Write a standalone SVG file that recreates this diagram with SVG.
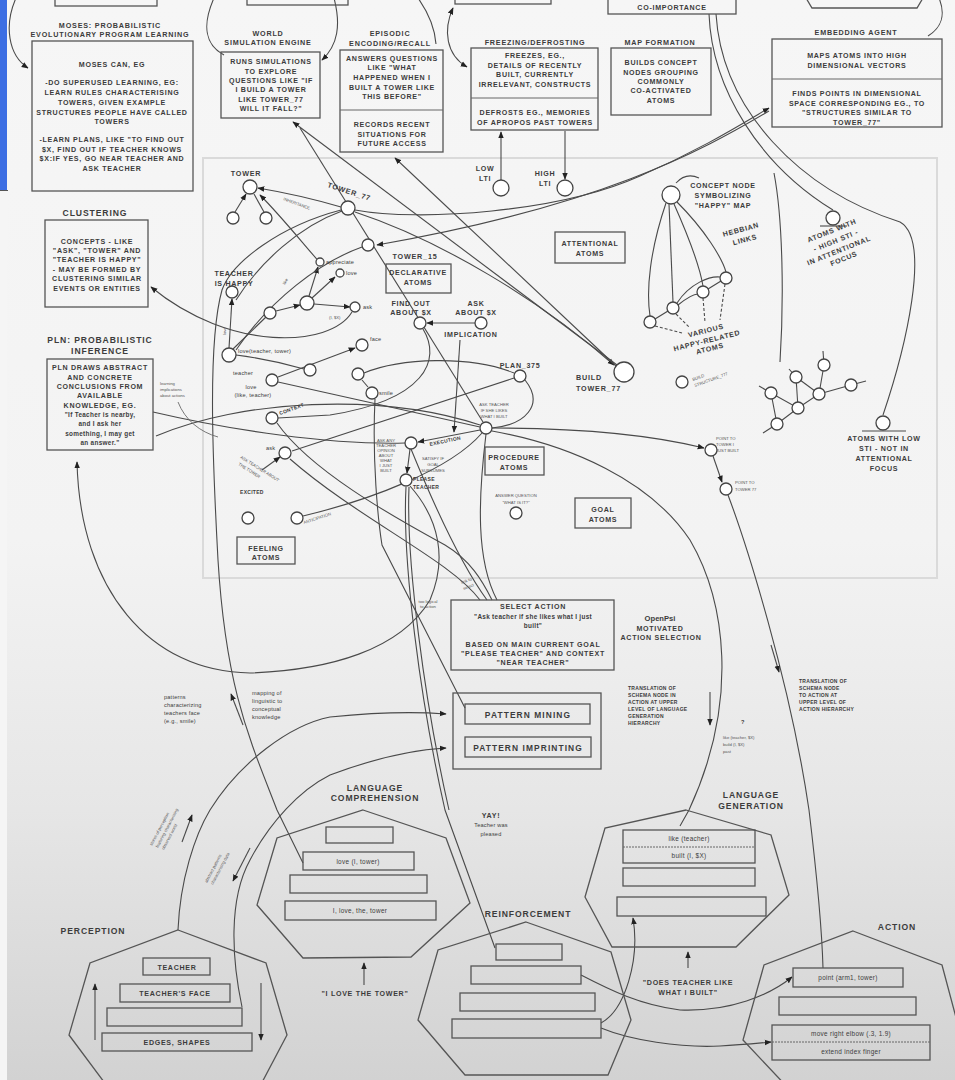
<svg xmlns="http://www.w3.org/2000/svg" width="955" height="1080" viewBox="0 0 955 1080">
<defs>
<linearGradient id="bg" x1="0" y1="0" x2="0" y2="1">
<stop offset="0" stop-color="#f6f6f6"/>
<stop offset="0.5" stop-color="#f3f3f3"/>
<stop offset="0.75" stop-color="#e6e6e6"/>
<stop offset="1" stop-color="#d2d2d2"/>
</linearGradient>
<marker id="ah" viewBox="0 0 10 10" refX="9" refY="5" markerWidth="7" markerHeight="7" markerUnits="userSpaceOnUse" orient="auto-start-reverse"><path d="M0,1 L10,5 L0,9 Z" fill="#222"/></marker>
<style>
text { font-family: 'Liberation Sans', Arial, sans-serif; fill: #3c3c3c; }
.t { font-size: 7.1px; font-weight: bold; letter-spacing: 0.7px; text-anchor: middle; }
.h { font-size: 7.2px; font-weight: bold; letter-spacing: 0.8px; text-anchor: middle; }
.hb { font-size: 8.6px; font-weight: bold; letter-spacing: 0.9px; text-anchor: middle; }
.pm { font-size: 8.4px; font-weight: bold; letter-spacing: 1.1px; text-anchor: middle; }
.m { font-size: 6.4px; font-weight: bold; letter-spacing: 0.3px; text-anchor: middle; }
.s { font-size: 5.6px; letter-spacing: 0.2px; }
.sm { font-size: 5.6px; letter-spacing: 0.2px; text-anchor: middle; }
.sb { font-size: 5px; font-weight: bold; letter-spacing: 0.3px; }
.xs { font-size: 4.2px; fill: #555; }
.xsm { font-size: 4.2px; fill: #555; text-anchor: middle; }
.box { fill: none; stroke: #555; stroke-width: 1.3; }
.div { fill: none; stroke: #666; stroke-width: 1; }
.ln { fill: none; stroke: #4a4a4a; stroke-width: 1.1; }
.lt { fill: none; stroke: #6a6a6a; stroke-width: 0.9; }
.dash { fill: none; stroke: #4a4a4a; stroke-width: 1.1; stroke-dasharray: 3 2; }
.nd { fill: #fff; stroke: #444; stroke-width: 1.3; }
.hex { fill: none; stroke: #555; stroke-width: 1.3; }
</style>
</defs>

<!-- page -->
<rect x="0" y="0" width="955" height="1080" fill="url(#bg)"/>
<rect x="0" y="190" width="7" height="890" fill="#f5f5f5"/>
<rect x="0" y="0" width="7" height="190" fill="#3c6ee3"/>
<line x1="0" y1="190.5" x2="8" y2="190.5" stroke="#555" stroke-width="1"/>

<!-- atomspace region -->
<rect id="atomspace" x="203" y="158" width="734" height="420" fill="none" stroke="#dadada" stroke-width="2"/>

<!-- connectors -->
<g id="connectors">
  <!-- top loops -->
  <path class="ln" d="M16 -2 C4 25, 8 55, 28 68" marker-end="url(#ah)"/>
  <path class="ln" d="M214 -2 C202 25, 205 45, 224 55"/>
  <path class="ln" d="M334 -2 C341 25, 338 45, 322 60" marker-end="url(#ah)"/>
  <path class="ln" d="M418 -2 C430 15, 435 30, 436 44"/>
  <path class="ln" d="M453 8 C443 30, 446 55, 467 67" marker-start="url(#ah)" marker-end="url(#ah)"/>
  <path class="ln" d="M939 -2 C946 15, 941 28, 928 36"/>
  <!-- co-importance to STI nodes -->
  <path class="ln" d="M709 14 C712 90, 760 165, 833 210"/>
  <path class="ln" d="M716 14 C722 110, 800 190, 900 222 C932 240, 905 350, 883 415"/>
  <!-- LTI -->
  <path class="ln" d="M501 180 L501 132" marker-end="url(#ah)"/>
  <path class="ln" d="M565 131 L565 179" marker-end="url(#ah)"/>
  <!-- tower cluster -->
  <path class="ln" d="M235 212 L246 194" marker-end="url(#ah)"/>
  <path class="ln" d="M264 212 L254 194"/>
  <path class="ln" d="M341 207 Q300 195 258 188" marker-end="url(#ah)"/>
  <path class="ln" d="M321 264 C300 240, 280 215, 260 195" marker-end="url(#ah)"/>
  <path class="ln" d="M236 300 C260 262, 300 226, 342 211"/>
  <!-- language to concept mapping -->
  <path class="ln" d="M303 863 L277 810 C250 740, 226 690, 218 560 C212 450, 208 340, 222 290 C232 262, 280 226, 341 210"/>
  <!-- build tower links -->
  <path class="ln" d="M355 212 C440 240, 540 300, 614 365" marker-end="url(#ah)"/>
  <path class="ln" d="M617 365 L293 122" marker-end="url(#ah)"/>
  <path class="ln" d="M616 366 L395 158" marker-end="url(#ah)"/>
  <path class="ln" d="M300 128 L483 422"/>
  <!-- embedding links -->
  <path class="ln" d="M355 210 C420 222, 560 212, 640 176 C700 150, 740 125, 769 108" marker-end="url(#ah)"/>
  <path class="ln" d="M769 111 C700 152, 600 206, 377 245" marker-end="url(#ah)"/>
  <!-- clustering -->
  <path class="ln" d="M352 312 C330 348, 230 352, 151 287" marker-end="url(#ah)"/>
  <!-- declarative cluster -->
  <path class="ln" d="M229 348 L232 299" marker-end="url(#ah)"/>
  <path class="ln" d="M233 349 L266 317"/>
  <path class="ln" d="M276 311 L300 305" marker-end="url(#ah)"/>
  <path class="ln" d="M309 296 L318 267" marker-end="url(#ah)"/>
  <path class="ln" d="M312 298 L335 277" marker-end="url(#ah)"/>
  <path class="ln" d="M314 304 L350 307" marker-end="url(#ah)"/>
  <path class="ln" d="M236 350 C270 300, 320 262, 362 247"/>
  <path class="ln" d="M236 355 C260 358, 290 365, 304 369"/>
  <path class="ln" d="M278 377 L355 348" marker-end="url(#ah)"/>
  <path class="ln" d="M364 373 C400 358, 470 355, 514 373"/>
  <path class="ln" d="M362 380 L368 387"/>
  <path class="ln" d="M525 380 C545 405, 525 425, 492 428"/>
  <path class="ln" d="M514 378 L292 451"/>
  <path class="ln" d="M460 340 L454 432" marker-end="url(#ah)"/>
  <path class="ln" d="M475 323 L427 323" marker-end="url(#ah)"/>
  <path class="ln" d="M423 329 C442 360, 425 400, 330 415 L278 418"/>
  <path class="ln" d="M480 430 L418 442" marker-end="url(#ah)"/>
  <path class="ln" d="M410 449 L407 473" marker-end="url(#ah)"/>
  <path class="ln" d="M278 382 L480 427"/>
  <path class="ln" d="M277 423 C310 470, 390 515, 445 545 C470 560, 482 580, 492 600"/>
  <path class="ln" d="M303 516 C370 500, 450 470, 482 433"/>
  <path class="ln" d="M262 470 L280 457" marker-end="url(#ah)"/>
  <path class="ln" d="M153 412 C230 430, 330 445, 405 443"/>
  <path class="ln" d="M156 436 C240 400, 380 392, 480 425"/>
  <path class="lt" d="M178 402 C185 420, 200 432, 218 437"/>
  <!-- towards action / generation -->
  <path class="ln" d="M492 428 C560 428, 640 432, 704 448" marker-end="url(#ah)"/>
  <path class="ln" d="M713 456 L722 482" marker-end="url(#ah)"/>
  <path class="ln" d="M728 495 C745 540, 790 680, 809 810 C815 860, 822 930, 823 968"/>
  <path class="ln" d="M492 431 C570 445, 650 480, 690 540 C725 600, 740 700, 689 810 L680 826"/>
  <path class="ln" d="M771 645 L779 672" marker-end="url(#ah)"/>
  <path class="ln" d="M710 692 L710 725" marker-end="url(#ah)"/>
  <!-- selection and learning feeds -->
  <path class="ln" d="M406 487 C402 560, 420 700, 445 810 L495 948"/>
  <path class="ln" d="M409 487 C406 560, 424 700, 449 810"/>
  <path class="ln" d="M375 399 C372 460, 378 520, 382 545 L465 708"/>
  <path class="ln" d="M486 434 C478 500, 476 560, 497 600"/>
  <path class="ln" d="M411 449 C440 520, 465 570, 487 600"/>
  <path class="ln" d="M290 459 C360 520, 450 560, 480 600"/>
  <path class="ln" d="M410 486 C440 520, 447 560, 430 600 C400 650, 330 670, 250 673 C150 672, 80 590, 77 462" marker-end="url(#ah)"/>
  <!-- happy map -->
  <path class="ln" d="M666 203 C650 250, 646 290, 650 316"/>
  <path class="ln" d="M669 204 L673 302"/>
  <path class="ln" d="M674 204 C690 240, 700 268, 703 286"/>
  <path class="ln" d="M677 202 C705 230, 722 258, 726 272"/>
  <path class="ln" d="M655 319 L668 311"/>
  <path class="ln" d="M678 305 C688 297, 694 294, 698 294"/>
  <path class="ln" d="M708 289 L721 281"/>
  <path class="ln" d="M677 303 C690 283, 710 276, 720 277"/>
  <path class="dash" d="M655 326 L682 333"/>
  <path class="dash" d="M676 314 L690 328"/>
  <path class="dash" d="M703 298 L705 322"/>
  <path class="dash" d="M725 284 L720 320"/>
  <path class="ln" d="M676 183 Q686 172 699 178"/>
  <path class="ln" d="M774 173 C783 220, 784 300, 780 362"/>
  <!-- perception / pattern links -->
  <path class="ln" d="M178 930 C180 880, 195 835, 210 810 C240 762, 290 725, 330 717 C380 712, 420 712, 446 714" marker-end="url(#ah)"/>
  <path class="ln" d="M242 1007 C232 960, 228 900, 250 860 C270 822, 300 790, 330 775 C370 760, 410 750, 446 748" marker-end="url(#ah)"/>
  <path class="ln" d="M182 842 L192 815" marker-end="url(#ah)"/>
  <path class="ln" d="M250 848 L233 881" marker-end="url(#ah)"/>
  <path class="ln" d="M243 725 L231 694" marker-end="url(#ah)"/>
  <!-- reinforcement outputs -->
  <path class="ln" d="M581 975 C610 990, 640 1005, 680 1010 C730 1012, 770 995, 792 977" marker-end="url(#ah)"/>
  <path class="ln" d="M601 1028 C630 1040, 680 1048, 720 1046 C740 1045, 760 1043, 771 1042" marker-end="url(#ah)"/>
  <path class="ln" d="M601 1023 C625 1010, 640 960, 633 918" marker-end="url(#ah)"/>
  <!-- input / output arrows -->
  <path class="ln" d="M364 985 L364 963" marker-end="url(#ah)"/>
  <path class="ln" d="M688 968 L688 952" marker-end="url(#ah)"/>
  <path class="ln" d="M95 1040 L95 984" marker-end="url(#ah)"/>
  <path class="ln" d="M261 983 L261 1040" marker-end="url(#ah)"/>
</g>

<!-- boxes cut by the top edge -->
<g id="top-boxes">
  <rect class="box" x="55" y="-10" width="102" height="16"/>
  <rect class="box" x="247" y="-10" width="101" height="15"/>
  <rect class="box" x="455" y="-10" width="96" height="14"/>
  <rect class="box" x="608" y="-10" width="128" height="24"/>
  <text class="t" x="672" y="9.5">CO-IMPORTANCE</text>
  <path class="box" d="M806 -2 L812 8 L917 8 L923 -2"/>
</g>

<g id="moses">
  <text class="h" x="110" y="28">MOSES: PROBABILISTIC</text>
  <text class="h" x="110" y="37">EVOLUTIONARY PROGRAM LEARNING</text>
  <rect class="box" x="32" y="41" width="161" height="150"/>
  <text class="t" x="112" y="66.5">MOSES CAN, EG</text>
  <text class="t" x="112" y="84.5">-DO SUPERUSED LEARNING, EG:</text>
  <text class="t" x="112" y="94.5">LEARN RULES CHARACTERISING</text>
  <text class="t" x="112" y="104.5">TOWERS, GIVEN EXAMPLE</text>
  <text class="t" x="112" y="114.5">STRUCTURES PEOPLE HAVE CALLED</text>
  <text class="t" x="112" y="123.5">TOWERS</text>
  <text class="t" x="112" y="141.5">-LEARN PLANS, LIKE "TO FIND OUT</text>
  <text class="t" x="112" y="151.5">$X, FIND OUT IF TEACHER KNOWS</text>
  <text class="t" x="112" y="160.5">$X:IF YES, GO NEAR TEACHER AND</text>
  <text class="t" x="112" y="170.5">ASK TEACHER</text>
</g>

<g id="world-simulation">
  <text class="h" x="268" y="35.5">WORLD</text>
  <text class="h" x="268" y="44.5">SIMULATION ENGINE</text>
  <rect class="box" x="221" y="52" width="99" height="66"/>
  <text class="t" x="271" y="63.5">RUNS SIMULATIONS</text>
  <text class="t" x="271" y="73.5">TO EXPLORE</text>
  <text class="t" x="271" y="82.5">QUESTIONS LIKE "IF</text>
  <text class="t" x="271" y="91.5">I BUILD A TOWER</text>
  <text class="t" x="271" y="101.5">LIKE TOWER_77</text>
  <text class="t" x="271" y="110.5">WILL IT FALL?"</text>
</g>

<g id="episodic">
  <text class="h" x="390" y="35.5">EPISODIC</text>
  <text class="h" x="390" y="45.5">ENCODING/RECALL</text>
  <rect class="box" x="340" y="50" width="103" height="102"/>
  <line class="div" x1="340" y1="110" x2="443" y2="110"/>
  <text class="t" x="392" y="60.5">ANSWERS QUESTIONS</text>
  <text class="t" x="392" y="69.5">LIKE "WHAT</text>
  <text class="t" x="392" y="79.5">HAPPENED WHEN I</text>
  <text class="t" x="392" y="89.5">BUILT A TOWER LIKE</text>
  <text class="t" x="392" y="98.5">THIS BEFORE"</text>
  <text class="t" x="392" y="126.5">RECORDS RECENT</text>
  <text class="t" x="392" y="136.5">SITUATIONS FOR</text>
  <text class="t" x="392" y="145.5">FUTURE ACCESS</text>
</g>

<g id="freezing">
  <text class="h" x="535" y="44.5">FREEZING/DEFROSTING</text>
  <rect class="box" x="471" y="48" width="127" height="82"/>
  <line class="div" x1="471" y1="98" x2="598" y2="98"/>
  <text class="t" x="535" y="57.5">FREEZES, EG.,</text>
  <text class="t" x="535" y="67.5">DETAILS OF RECENTLY</text>
  <text class="t" x="535" y="76.5">BUILT, CURRENTLY</text>
  <text class="t" x="535" y="86.5">IRRELEVANT, CONSTRUCTS</text>
  <text class="t" x="535" y="114.5">DEFROSTS EG., MEMORIES</text>
  <text class="t" x="535" y="124.5">OF APROPOS PAST TOWERS</text>
</g>

<g id="map-formation">
  <text class="h" x="660" y="44.5">MAP FORMATION</text>
  <rect class="box" x="611" y="48" width="100" height="67"/>
  <text class="t" x="661" y="64.5">BUILDS CONCEPT</text>
  <text class="t" x="661" y="74.5">NODES GROUPING</text>
  <text class="t" x="661" y="83.5">COMMONLY</text>
  <text class="t" x="661" y="92.5">CO-ACTIVATED</text>
  <text class="t" x="661" y="102.5">ATOMS</text>
</g>

<g id="embedding-agent">
  <text class="h" x="856" y="34.5">EMBEDDING AGENT</text>
  <rect class="box" x="772" y="39" width="170" height="88"/>
  <line class="div" x1="772" y1="79" x2="942" y2="79"/>
  <text class="t" x="857" y="57.5">MAPS ATOMS INTO HIGH</text>
  <text class="t" x="857" y="67.5">DIMENSIONAL VECTORS</text>
  <text class="t" x="857" y="95.5">FINDS POINTS IN DIMENSIONAL</text>
  <text class="t" x="857" y="105.5">SPACE CORRESPONDING EG., TO</text>
  <text class="t" x="857" y="114.5">"STRUCTURES SIMILAR TO</text>
  <text class="t" x="857" y="124.5">TOWER_77"</text>
</g>

<g id="lti-nodes">
  <circle class="nd" cx="501" cy="188" r="8"/>
  <circle class="nd" cx="565" cy="188" r="8"/>
  <text class="t" x="485" y="170.5">LOW</text>
  <text class="t" x="485" y="180.5">LTI</text>
  <text class="t" x="545" y="175.5">HIGH</text>
  <text class="t" x="545" y="185.5">LTI</text>
</g>

<g id="clustering">
  <text class="hb" x="95" y="216">CLUSTERING</text>
  <rect class="box" x="45" y="220" width="103" height="87"/>
  <text class="t" x="97" y="243.5">CONCEPTS - LIKE</text>
  <text class="t" x="97" y="252.5">"ASK", "TOWER" AND</text>
  <text class="t" x="97" y="261.5">"TEACHER IS HAPPY"</text>
  <text class="t" x="97" y="271.5">- MAY BE FORMED BY</text>
  <text class="t" x="97" y="280.5">CLUSTERING SIMILAR</text>
  <text class="t" x="97" y="290.5">EVENTS OR ENTITIES</text>
</g>

<g id="pln">
  <text class="hb" x="100" y="343">PLN: PROBABILISTIC</text>
  <text class="hb" x="100" y="354">INFERENCE</text>
  <rect class="box" x="47" y="359" width="106" height="91"/>
  <text class="t" x="100" y="369.5">PLN DRAWS ABSTRACT</text>
  <text class="t" x="100" y="379.5">AND CONCRETE</text>
  <text class="t" x="100" y="388.5">CONCLUSIONS FROM</text>
  <text class="t" x="100" y="397.5">AVAILABLE</text>
  <text class="t" x="100" y="407.5">KNOWLEDGE, EG.</text>
  <text class="m" x="100" y="416.5">"If Teacher is nearby,</text>
  <text class="m" x="100" y="425.5">and I ask her</text>
  <text class="m" x="100" y="435.5">something, I may get</text>
  <text class="m" x="100" y="444.5">an answer."</text>
  <text class="xs" x="160" y="385">learning</text>
  <text class="xs" x="160" y="391">implications</text>
  <text class="xs" x="160" y="397">about actions</text>
</g>

<!-- declarative atoms -->
<g id="tower-nodes">
  <text class="h" x="246" y="176">TOWER</text>
  <circle class="nd" cx="250" cy="187" r="7"/>
  <circle class="nd" cx="233" cy="218" r="6"/>
  <circle class="nd" cx="266" cy="218" r="6"/>
  <text class="xs" x="297" y="205" text-anchor="middle" transform="rotate(20 297 203)">INHERITANCE</text>
  <text class="h" x="349" y="194" transform="rotate(18 349 192)">TOWER_77</text>
  <circle class="nd" cx="348" cy="208" r="7"/>
  <text class="h" x="415" y="259">TOWER_15</text>
  <circle class="nd" cx="368" cy="245" r="6"/>
</g>

<g id="declarative-atoms">
  <rect class="box" x="386" y="264" width="65" height="29"/>
  <text class="t" x="418" y="275">DECLARATIVE</text>
  <text class="t" x="418" y="285">ATOMS</text>
</g>

<g id="attentional-atoms">
  <rect class="box" x="555" y="232" width="70" height="31"/>
  <text class="t" x="590" y="245.5">ATTENTIONAL</text>
  <text class="t" x="590" y="255.5">ATOMS</text>
</g>

<g id="teacher-nodes">
  <text class="t" x="234" y="275.5">TEACHER</text>
  <text class="t" x="234" y="285.5">IS HAPPY</text>
  <circle class="nd" cx="232" cy="292" r="6"/>
  <circle class="nd" cx="320" cy="262" r="4"/>
  <text class="s" x="326" y="264">appreciate</text>
  <circle class="nd" cx="340" cy="273" r="4"/>
  <text class="s" x="346" y="275">love</text>
  <circle class="nd" cx="307" cy="303" r="7"/>
  <circle class="nd" cx="270" cy="313" r="6"/>
  <circle class="nd" cx="355" cy="307" r="5"/>
  <text class="s" x="363" y="309">ask</text>
  <text class="xs" x="329" y="319">(I, $X)</text>
  <text class="xs" x="285" y="285" transform="rotate(-60 285 285)">like</text>
  <text class="xs" x="226" y="335" transform="rotate(-90 226 335)">love</text>
  <circle class="nd" cx="229" cy="355" r="7"/>
  <text class="s" x="238" y="353">love(teacher, tower)</text>
  <text class="s" x="233" y="375">teacher</text>
  <circle class="nd" cx="272" cy="380" r="6"/>
  <text class="sm" x="251" y="389">love</text>
  <text class="sm" x="253" y="397">(like, teacher)</text>
  <circle class="nd" cx="310" cy="370" r="6"/>
  <circle class="nd" cx="362" cy="345" r="6"/>
  <text class="s" x="370" y="341">face</text>
  <circle class="nd" cx="358" cy="374" r="6"/>
  <circle class="nd" cx="372" cy="393" r="6"/>
  <text class="s" x="379" y="395">smile</text>
  <circle class="nd" cx="272" cy="418" r="6"/>
  <text class="sb" x="280" y="415" transform="rotate(-20 280 415)">CONTEXT</text>
  <text class="s" x="266" y="450">ask</text>
  <circle class="nd" cx="285" cy="453" r="6"/>
  <text class="xs" x="240" y="458" transform="rotate(32 240 458)">ASK TEACHER ABOUT</text>
  <text class="xs" x="238" y="465" transform="rotate(32 238 465)">THE TOWER</text>
  <text class="sb" x="240" y="494">EXCITED</text>
  <circle class="nd" cx="248" cy="518" r="6"/>
  <circle class="nd" cx="297" cy="518" r="6"/>
  <text class="xs" x="304" y="524" transform="rotate(-18 304 524)">ANTICIPATION</text>
</g>

<g id="plan-nodes">
  <text class="t" x="411" y="306">FIND OUT</text>
  <text class="t" x="411" y="315">ABOUT $X</text>
  <circle class="nd" cx="420" cy="323" r="6"/>
  <text class="t" x="476" y="306">ASK</text>
  <text class="t" x="476" y="315">ABOUT $X</text>
  <circle class="nd" cx="481" cy="323" r="6"/>
  <text class="t" x="471" y="337">IMPLICATION</text>
  <text class="t" x="520" y="368">PLAN_375</text>
  <circle class="nd" cx="520" cy="376" r="6"/>
  <text class="xsm" x="494" y="406">ASK TEACHER</text>
  <text class="xsm" x="494" y="412">IF SHE LIKES</text>
  <text class="xsm" x="494" y="418">WHAT I BUILT</text>
  <circle class="nd" cx="486" cy="428" r="6"/>
  <text class="sb" x="430" y="446" transform="rotate(-12 430 446)">EXECUTION</text>
  <circle class="nd" cx="411" cy="443" r="6"/>
  <text class="xsm" x="386" y="442">ASK ANY</text>
  <text class="xsm" x="386" y="447">TEACHER</text>
  <text class="xsm" x="386" y="452">OPINION</text>
  <text class="xsm" x="386" y="457">ABOUT</text>
  <text class="xsm" x="386" y="462">WHAT</text>
  <text class="xsm" x="386" y="467">I JUST</text>
  <text class="xsm" x="386" y="472">BUILT</text>
  <text class="xsm" x="433" y="460">SATISFY IF</text>
  <text class="xsm" x="433" y="466">GOAL</text>
  <text class="xsm" x="433" y="472">SUBSUMES</text>
  <circle class="nd" cx="406" cy="480" r="6"/>
  <text class="sb" x="413" y="481">PLEASE</text>
  <text class="sb" x="413" y="489">TEACHER</text>
</g>

<g id="procedure-atoms">
  <rect class="box" x="485" y="447" width="59" height="28"/>
  <text class="t" x="514" y="459.5">PROCEDURE</text>
  <text class="t" x="514" y="469.5">ATOMS</text>
  <text class="xsm" x="516" y="497">ANSWER QUESTION</text>
  <text class="xsm" x="516" y="504">"WHAT IS IT?"</text>
  <circle class="nd" cx="516" cy="513" r="6"/>
</g>

<g id="goal-atoms">
  <rect class="box" x="575" y="498" width="56" height="30"/>
  <text class="t" x="603" y="511.5">GOAL</text>
  <text class="t" x="603" y="521.5">ATOMS</text>
</g>

<g id="feeling-atoms">
  <rect class="box" x="237" y="537" width="58" height="27"/>
  <text class="t" x="266" y="550.5">FEELING</text>
  <text class="t" x="266" y="559.5">ATOMS</text>
</g>

<g id="build-tower">
  <circle class="nd" cx="624" cy="372" r="10"/>
  <text class="h" x="576" y="380" style="text-anchor:start">BUILD</text>
  <text class="h" x="576" y="391" style="text-anchor:start">TOWER_77</text>
  <circle class="nd" cx="682" cy="382" r="6"/>
  <text class="xs" x="693" y="381" transform="rotate(-20 693 381)">BUILD</text>
  <text class="xs" x="695" y="387" transform="rotate(-20 695 387)">STRUCTURE_777</text>
</g>

<g id="happy-map">
  <circle class="nd" cx="671" cy="195" r="9"/>
  <text class="t" x="723" y="187.5">CONCEPT NODE</text>
  <text class="t" x="723" y="197.5">SYMBOLIZING</text>
  <text class="t" x="723" y="207.5">"HAPPY" MAP</text>
  <text class="t" x="741" y="232" transform="rotate(-15 741 230)">HEBBIAN</text>
  <text class="t" x="745" y="242" transform="rotate(-15 745 240)">LINKS</text>
  <circle class="nd" cx="650" cy="322" r="6"/>
  <circle class="nd" cx="673" cy="308" r="6"/>
  <circle class="nd" cx="703" cy="292" r="6"/>
  <circle class="nd" cx="726" cy="278" r="6"/>
  <text class="t" x="706" y="333" transform="rotate(-14 706 331)">VARIOUS</text>
  <text class="t" x="707" y="343" transform="rotate(-14 707 341)">HAPPY-RELATED</text>
  <text class="t" x="710" y="351" transform="rotate(-14 710 349)">ATOMS</text>
</g>

<g id="high-sti">
  <circle class="nd" cx="833" cy="218" r="7"/>
  <line class="ln" x1="820" y1="226" x2="847" y2="226"/>
  <text class="t" x="832" y="233" transform="rotate(-22 832 231)">ATOMS WITH</text>
  <text class="t" x="836" y="243" transform="rotate(-22 836 241)">- HIGH STI -</text>
  <text class="t" x="839" y="253" transform="rotate(-22 839 251)">IN ATTENTIONAL</text>
  <text class="t" x="844" y="261" transform="rotate(-22 844 259)">FOCUS</text>
</g>

<g id="low-sti">
  <circle class="nd" cx="883" cy="423" r="7"/>
  <line class="ln" x1="862" y1="431" x2="906" y2="431"/>
  <text class="t" x="884" y="440.5">ATOMS WITH LOW</text>
  <text class="t" x="884" y="450.5">STI - NOT IN</text>
  <text class="t" x="884" y="460.5">ATTENTIONAL</text>
  <text class="t" x="884" y="470.5">FOCUS</text>
</g>

<g id="structure">
  <g class="ln">
    <path d="M771 393 L777 424 L798 408 L771 393"/>
    <path d="M798 408 L819 394 L824 365"/>
    <path d="M819 394 L851 385"/>
    <path d="M796 377 L798 408"/>
    <path d="M796 377 L819 394"/>
    <path d="M824 365 L823 351"/>
    <path d="M796 377 L789 369"/>
    <path d="M771 393 L759 386"/>
    <path d="M851 385 L866 381"/>
    <path d="M777 424 L763 433"/>
  </g>
  <circle class="nd" cx="771" cy="393" r="6"/>
  <circle class="nd" cx="796" cy="377" r="6"/>
  <circle class="nd" cx="824" cy="365" r="6"/>
  <circle class="nd" cx="851" cy="385" r="6"/>
  <circle class="nd" cx="819" cy="394" r="6"/>
  <circle class="nd" cx="798" cy="408" r="6"/>
  <circle class="nd" cx="777" cy="424" r="6"/>
</g>

<g id="point-nodes">
  <circle class="nd" cx="711" cy="450" r="6"/>
  <text class="xs" x="716" y="440">POINT TO</text>
  <text class="xs" x="716" y="446">TOWER I</text>
  <text class="xs" x="716" y="452">JUST BUILT</text>
  <circle class="nd" cx="726" cy="489" r="6"/>
  <text class="xs" x="735" y="484">POINT TO</text>
  <text class="xs" x="735" y="491">TOWER 77</text>
</g>

<g id="select-action">
  <text class="xsm" x="467" y="582" transform="rotate(-20 467 582)">link to</text>
  <text class="xsm" x="469" y="588" transform="rotate(-20 469 588)">select</text>
  <text class="xsm" x="428" y="603">too logical</text>
  <text class="xsm" x="428" y="608">to action</text>
  <rect class="box" x="451" y="600" width="163" height="70" fill="#f7f7f7"/>
  <text class="t" x="533" y="608.5">SELECT ACTION</text>
  <text class="m" x="533" y="618.5">"Ask teacher if she likes what I just</text>
  <text class="m" x="533" y="627.5">built"</text>
  <text class="t" x="533" y="646.5">BASED ON MAIN CURRENT GOAL</text>
  <text class="t" x="533" y="655.5">"PLEASE TEACHER" AND CONTEXT</text>
  <text class="t" x="533" y="664.5">"NEAR TEACHER"</text>
</g>

<g id="openpsi">
  <text x="660" y="621" style="font-size:7.6px;font-weight:bold;text-anchor:middle">OpenPsi</text>
  <text class="t" x="660" y="630.5">MOTIVATED</text>
  <text class="t" x="661" y="639.5">ACTION SELECTION</text>
</g>

<g id="pattern">
  <rect class="box" x="453" y="693" width="148" height="76"/>
  <rect class="box" x="465" y="704" width="125" height="20"/>
  <text class="pm" x="528" y="717.5">PATTERN MINING</text>
  <rect class="box" x="465" y="737" width="126" height="20"/>
  <text class="pm" x="528" y="750.5">PATTERN IMPRINTING</text>
</g>

<g id="notes">
  <text class="sb" x="628" y="690">TRANSLATION OF</text>
  <text class="sb" x="628" y="697">SCHEMA NODE IN</text>
  <text class="sb" x="628" y="704">ACTION AT UPPER</text>
  <text class="sb" x="628" y="711">LEVEL OF LANGUAGE</text>
  <text class="sb" x="628" y="718">GENERATION</text>
  <text class="sb" x="628" y="725">HIERARCHY</text>
  <text class="sb" x="799" y="683">TRANSLATION OF</text>
  <text class="sb" x="799" y="690">SCHEMA NODE</text>
  <text class="sb" x="799" y="697">TO ACTION AT</text>
  <text class="sb" x="799" y="704">UPPER LEVEL OF</text>
  <text class="sb" x="799" y="711">ACTION HIERARCHY</text>
  <text class="s" x="741" y="724" style="font-weight:bold">?</text>
  <text class="xs" x="723" y="739">like (teacher, $X)</text>
  <text class="xs" x="723" y="746">build (I, $X)</text>
  <text class="xs" x="723" y="753">past</text>
  <text class="s" x="164" y="699">patterns</text>
  <text class="s" x="164" y="707">characterizing</text>
  <text class="s" x="164" y="715">teachers face</text>
  <text class="s" x="164" y="723">(e.g., smile)</text>
  <text class="s" x="252" y="695">mapping of</text>
  <text class="s" x="252" y="703">linguistic to</text>
  <text class="s" x="252" y="711">conceptual</text>
  <text class="s" x="252" y="719">knowledge</text>
  <text class="xs" x="152" y="846" transform="rotate(-62 152 846)">stores of perception</text>
  <text class="xs" x="158" y="848" transform="rotate(-62 158 848)">featuring characterising</text>
  <text class="xs" x="164" y="850" transform="rotate(-62 164 850)">observed world</text>
  <text class="xs" x="207" y="883" transform="rotate(-62 207 883)">abstract patterns</text>
  <text class="xs" x="213" y="885" transform="rotate(-62 213 885)">characterising data</text>
  <text class="t" x="491" y="817.5">YAY!</text>
  <text class="sm" x="491" y="826.5">Teacher was</text>
  <text class="sm" x="491" y="835.5">pleased</text>
</g>

<g id="perception">
  <text class="hb" x="93" y="934">PERCEPTION</text>
  <polygon class="hex" points="178,930 266,963 287,1035 258,1090 110,1090 69,1035 90,963"/>
  <rect class="box" x="143" y="958" width="67" height="17"/>
  <text class="t" x="177" y="969.5">TEACHER</text>
  <rect class="box" x="120" y="984" width="110" height="18"/>
  <text class="t" x="175" y="995.5">TEACHER'S FACE</text>
  <rect class="box" x="107" y="1008" width="135" height="18"/>
  <rect class="box" x="102" y="1033" width="150" height="18"/>
  <text class="t" x="177" y="1044.5">EDGES, SHAPES</text>
</g>

<g id="language-comprehension">
  <text class="hb" x="375" y="791">LANGUAGE</text>
  <text class="hb" x="375" y="801">COMPREHENSION</text>
  <polygon class="hex" points="363,810 446,838 470,903 411,957 303,958 257,905 277,838"/>
  <rect class="box" x="326" y="827" width="67" height="16"/>
  <rect class="box" x="303" y="852" width="111" height="18"/>
  <text class="m" x="358" y="863.5" style="font-weight:normal">love (I, tower)</text>
  <rect class="box" x="290" y="875" width="137" height="18"/>
  <rect class="box" x="285" y="901" width="151" height="19"/>
  <text class="m" x="360" y="913" style="font-weight:normal">I, love, the, tower</text>
  <text class="t" x="365" y="996">"I LOVE THE TOWER"</text>
</g>

<g id="reinforcement">
  <text class="hb" x="528" y="917">REINFORCEMENT</text>
  <polygon class="hex" points="526,922 611,952 631,1020 608,1075 465,1075 418,1020 438,950"/>
  <rect class="box" x="496" y="944" width="66" height="16"/>
  <rect class="box" x="471" y="966" width="110" height="18"/>
  <rect class="box" x="460" y="993" width="135" height="18"/>
  <rect class="box" x="452" y="1019" width="149" height="19"/>
</g>

<g id="language-generation">
  <text class="hb" x="751" y="798">LANGUAGE</text>
  <text class="hb" x="751" y="809">GENERATION</text>
  <polygon class="hex" points="686,810 771,835 789,895 736,947 612,947 585,897 605,828"/>
  <rect class="box" x="623" y="830" width="132" height="33"/>
  <line class="div" x1="623" y1="847" x2="755" y2="847" stroke-dasharray="2 1"/>
  <text class="m" x="689" y="840.5" style="font-weight:normal">like (teacher)</text>
  <text class="m" x="689" y="858" style="font-weight:normal">built (I, $X)</text>
  <rect class="box" x="623" y="868" width="132" height="18"/>
  <rect class="box" x="617" y="897" width="149" height="19"/>
  <text class="t" x="688" y="985">"DOES TEACHER LIKE</text>
  <text class="t" x="688" y="995">WHAT I BUILT"</text>
</g>

<g id="action">
  <text class="hb" x="897" y="930">ACTION</text>
  <polygon class="hex" points="853,931 942,965 962,1040 962,1090 790,1090 743,1040 764,965"/>
  <rect class="box" x="793" y="968" width="110" height="19"/>
  <text class="m" x="848" y="980" style="font-weight:normal">point (arm1, tower)</text>
  <rect class="box" x="779" y="997" width="137" height="18"/>
  <rect class="box" x="772" y="1025" width="158" height="35"/>
  <line class="div" x1="772" y1="1042" x2="930" y2="1042" stroke-dasharray="2 1"/>
  <text class="m" x="851" y="1036" style="font-weight:normal">move right elbow (.3, 1.9)</text>
  <text class="m" x="851" y="1054" style="font-weight:normal">extend index finger</text>
</g>
</svg>
